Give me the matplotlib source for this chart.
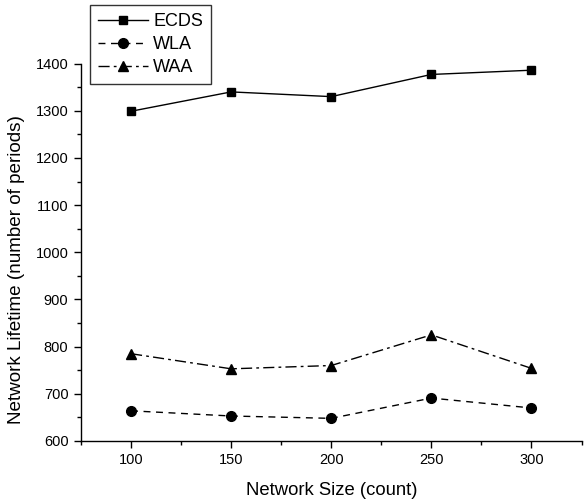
import matplotlib
matplotlib.use("Agg")
import matplotlib.pyplot as plt
from matplotlib.ticker import MultipleLocator

plt.rcParams['font.family'] = ['Liberation Sans', 'DejaVu Sans']

network_size = [100, 150, 200, 250, 300]
ecds = [1299, 1340, 1330, 1377, 1386]
wla = [664, 653, 648, 691, 670]
waa = [785, 753, 760, 825, 754]

fig = plt.figure(figsize=(5.87, 5.01), dpi=100)
ax = fig.add_axes([81/587, 60/501, (581.5-81)/587, (441-63.6)/501])

lw = 1.0
ax.plot(network_size, ecds, color='black', lw=lw, linestyle='-', marker='s', markersize=6, label='ECDS')
ax.plot(network_size, wla, color='black', lw=lw, linestyle=(0, (5, 4)), marker='o', markersize=7, label='WLA')
ax.plot(network_size, waa, color='black', lw=lw, linestyle=(0, (8, 3, 2, 3)), marker='^', markersize=7, label='WAA')

ax.set_xlim(75, 325)
ax.set_ylim(600, 1400)
ax.xaxis.set_major_locator(MultipleLocator(50))
ax.xaxis.set_minor_locator(MultipleLocator(25))
ax.yaxis.set_major_locator(MultipleLocator(100))
ax.yaxis.set_minor_locator(MultipleLocator(50))

for s in ['top', 'right']:
    ax.spines[s].set_visible(False)
for s in ['left', 'bottom']:
    ax.spines[s].set_linewidth(1.0)

ax.tick_params(which='major', direction='out', length=5, width=1, labelsize=10.5, pad=4)
ax.tick_params(which='minor', direction='out', length=3, width=1)

ax.set_xlabel('Network Size (count)', fontsize=13.3)
ax.set_ylabel('Network Lifetime (number of periods)', fontsize=13.6)
# label positions in axes coordinates
ax.xaxis.set_label_coords(0.5, -0.108)
ax.yaxis.set_label_coords(-0.112, 0.455)

leg = fig.legend(loc='upper left', bbox_to_anchor=(90/587, 1-5/501), fontsize=13,
                 frameon=True, fancybox=False, handlelength=2.75, handletextpad=0.3,
                 borderpad=0.45, labelspacing=0.33, borderaxespad=0)
leg.get_frame().set_edgecolor('black')
leg.get_frame().set_linewidth(1.0)

fig.savefig('out.png', dpi=100)
